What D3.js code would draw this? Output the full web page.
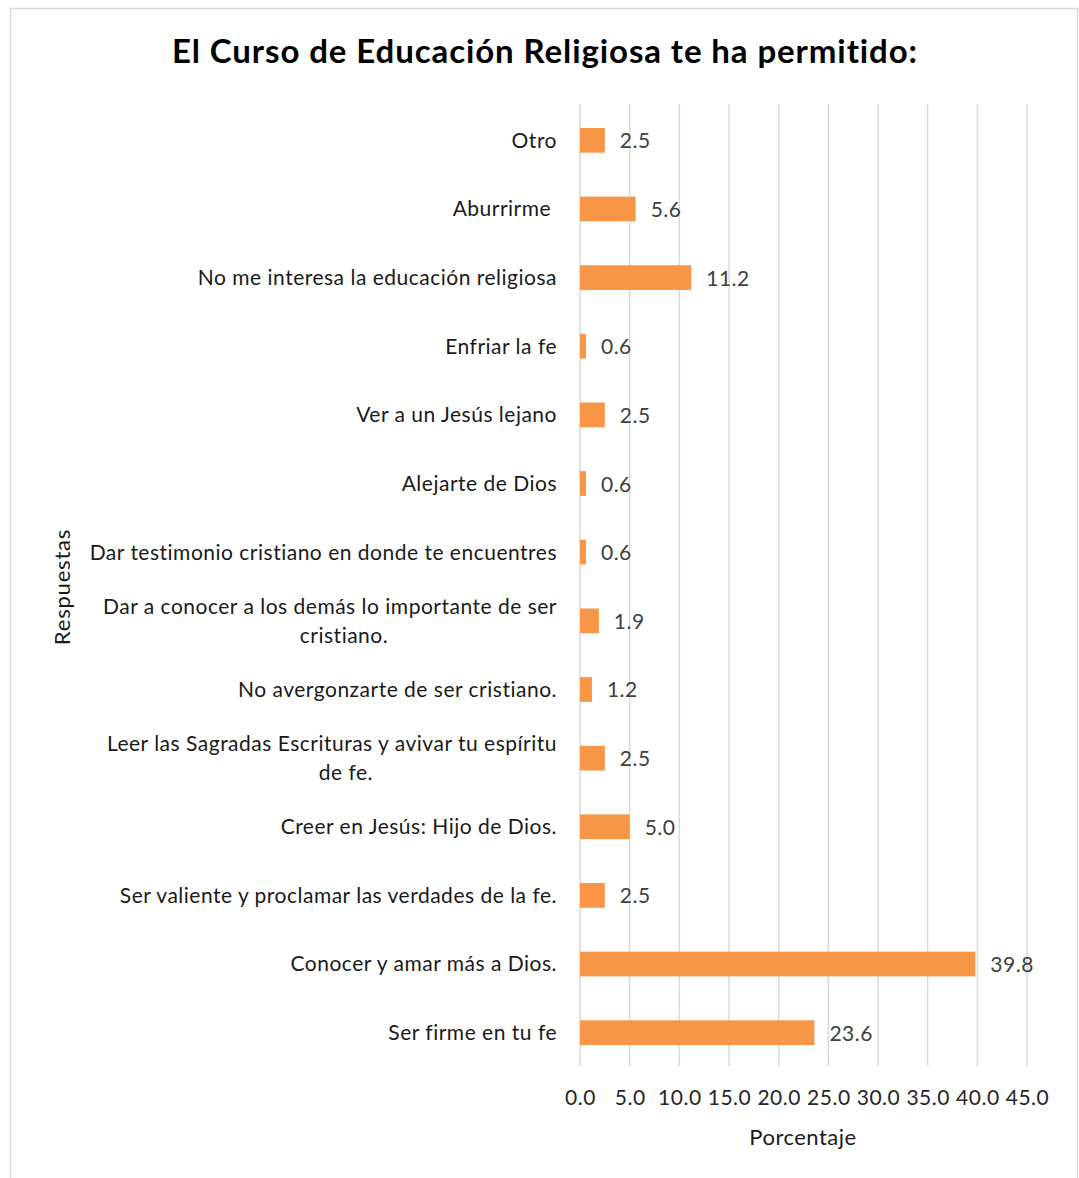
<!DOCTYPE html>
<html><head><meta charset="utf-8">
<script src="https://cdn.jsdelivr.net/npm/d3@7"></script>
<style>body{margin:0;background:#fff} text{font-family:Lato,"Open Sans",sans-serif; white-space:pre}</style>
</head><body>
<svg id="c" width="1079" height="1178"></svg>
<script>
const categories = [
  ["Otro"],
  ["Aburrirme "],
  ["No me interesa la educación religiosa"],
  ["Enfriar la fe"],
  ["Ver a un Jesús lejano"],
  ["Alejarte de Dios"],
  ["Dar testimonio cristiano en donde te encuentres"],
  ["Dar a conocer a los demás lo importante de ser", "cristiano."],
  ["No avergonzarte de ser cristiano."],
  ["Leer las Sagradas Escrituras y avivar tu espíritu", "de fe."],
  ["Creer en Jesús: Hijo de Dios."],
  ["Ser valiente y proclamar las verdades de la fe."],
  ["Conocer y amar más a Dios."],
  ["Ser firme en tu fe"]
];
const values = [2.5, 5.6, 11.2, 0.6, 2.5, 0.6, 0.6, 1.9, 1.2, 2.5, 5.0, 2.5, 39.8, 23.6];
const xTicks = [0, 5, 10, 15, 20, 25, 30, 35, 40, 45];
const title = "El Curso de Educación Religiosa te ha permitido:";
const xTitle = "Porcentaje";
const yTitle = "Respuestas";

const svg = d3.select("#c");
svg.append("rect").attr("x", 10.5).attr("y", 8.5).attr("width", 1067).attr("height", 1180)
  .attr("fill", "#fff").attr("stroke", "#d9d9d9").attr("stroke-width", 1.5);

const x = d3.scaleLinear().domain([0, 45]).range([580, 1027]);
const y = d3.scaleBand().domain(d3.range(categories.length)).range([106, 1067]).paddingInner(0.64).paddingOuter(0.32);

// gridlines
svg.append("g").selectAll("line").data(xTicks).join("line")
  .attr("x1", d => x(d)).attr("x2", d => x(d)).attr("y1", 104).attr("y2", 1066)
  .attr("stroke", "#d9d9d9").attr("stroke-width", 1.5);

// x axis labels
const xAxis = d3.axisBottom(x).tickValues(xTicks).tickFormat(d3.format(".1f")).tickSize(0).tickPadding(0);
const gx = svg.append("g").attr("transform", "translate(0,1090)").call(xAxis);
gx.select(".domain").remove();
gx.selectAll("text").attr("font-size", 21).attr("letter-spacing", 0.5).attr("fill", "#262626").attr("font-family", "Lato");

// bars
svg.append("g").selectAll("rect").data(values).join("rect")
  .attr("x", x(0)).attr("y", (d, i) => y(i)).attr("width", d => x(d) - x(0)).attr("height", y.bandwidth())
  .attr("fill", "#F79646");

// data labels
svg.append("g").selectAll("text").data(values).join("text")
  .attr("x", d => x(d) + 15).attr("y", (d, i) => y(i) + y.bandwidth() / 2).attr("dy", "0.38em")
  .attr("font-size", 21).attr("letter-spacing", 0.5).attr("fill", "#404040").text(d => d3.format(".1f")(d));

// category labels
const gl = svg.append("g");
categories.forEach((lines, i) => {
  const cy = y(i) + y.bandwidth() / 2;
  if (lines.length === 1) {
    gl.append("text").attr("x", 557).attr("y", cy).attr("dy", "0.35em").attr("text-anchor", "end")
      .attr("font-size", 21).attr("letter-spacing", 0.5).attr("fill", "#1a1a1a").text(lines[0]);
  } else {
    const t0 = gl.append("text").attr("x", 557).attr("y", cy - 14).attr("dy", "0.35em").attr("text-anchor", "end")
      .attr("font-size", 21).attr("letter-spacing", 0.5).attr("fill", "#1a1a1a").text(lines[0]);
    const w = t0.node().getComputedTextLength();
    const cx = 557 - w / 2;
    t0.attr("text-anchor", "middle").attr("x", cx);
    gl.append("text").attr("x", cx + 14).attr("y", cy + 15).attr("dy", "0.35em").attr("text-anchor", "middle")
      .attr("font-size", 21).attr("letter-spacing", 0.5).attr("fill", "#1a1a1a").text(lines[1]);
  }
});

// titles
svg.append("text").attr("x", 545).attr("y", 63).attr("text-anchor", "middle")
  .attr("font-size", 33).attr("letter-spacing", 0.9).attr("font-weight", "bold").attr("fill", "#000").text(title);
svg.append("text").attr("x", 803).attr("y", 1145).attr("text-anchor", "middle")
  .attr("font-size", 22).attr("letter-spacing", 0.5).attr("fill", "#1a1a1a").text(xTitle);
svg.append("text").attr("transform", "translate(70,587) rotate(-90)").attr("text-anchor", "middle")
  .attr("font-size", 22).attr("letter-spacing", 0.8).attr("fill", "#1a1a1a").text(yTitle);
</script>
</body></html>
